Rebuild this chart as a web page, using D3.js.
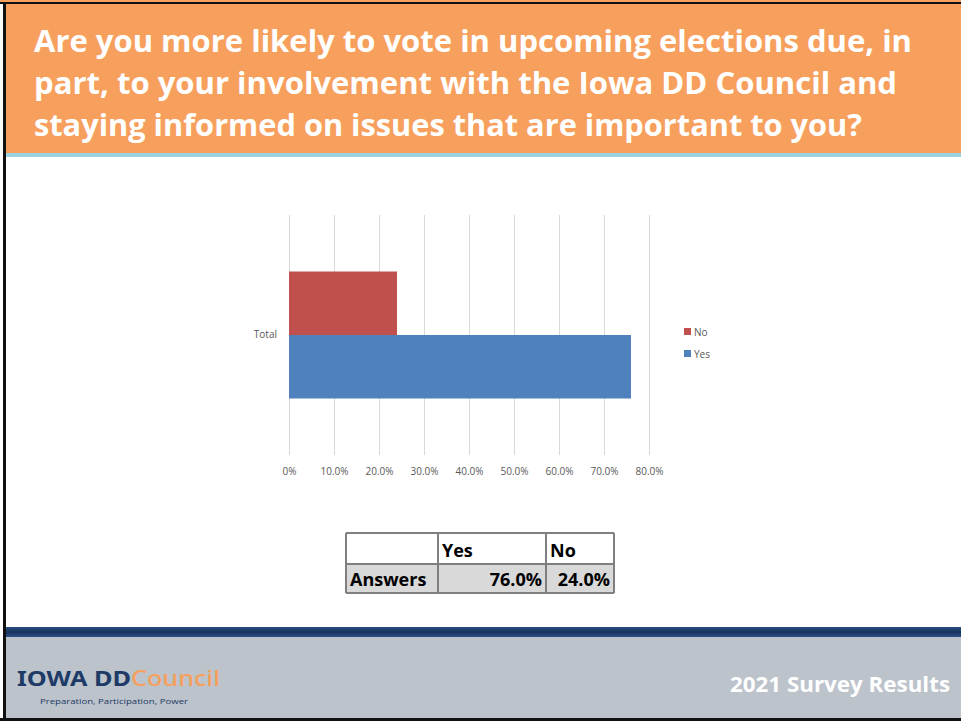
<!DOCTYPE html>
<html>
<head>
<meta charset="utf-8">
<script src="https://cdn.jsdelivr.net/npm/d3@7"></script>
<style>
  html, body { margin: 0; padding: 0; background: #fff; }
  svg { display: block; }
</style>
</head>
<body>
<script>
const titleLines = [
  'Are you more likely to vote in upcoming elections due, in',
  'part, to your involvement with the Iowa DD Council and',
  'staying informed on issues that are important to you?'
]
const categories = ['Total']
const seriesNames = ['No', 'Yes']
const seriesValues = [0.24, 0.76]
const legendNames = ['No', 'Yes']
const tickValues = [0, 0.1, 0.2, 0.3, 0.4, 0.5, 0.6, 0.7, 0.8]
const tableHeader = ['', 'Yes', 'No']
const tableRowLabel = 'Answers'
const tableValues = [0.76, 0.24]

const W = 961
const H = 721
const FONT = '"Open Sans", "Liberation Sans", sans-serif'
const colors = { No: '#c0504d', Yes: '#4f81bd' }

const svg = d3.select('body').append('svg')
  .attr('width', W)
  .attr('height', H)

// frame + header
svg.append('rect').attr('x', 0).attr('y', 0).attr('width', W).attr('height', H).attr('fill', '#fff')
svg.append('rect').attr('x', 0).attr('y', 0).attr('width', W).attr('height', 3).attr('fill', '#f7a05e')
svg.append('rect').attr('x', 0).attr('y', 2).attr('width', W).attr('height', 2).attr('fill', '#111')
svg.append('rect').attr('x', 6).attr('y', 4).attr('width', W - 6).attr('height', 150).attr('fill', '#f7a05e')
svg.append('rect').attr('x', 6).attr('y', 153).attr('width', W - 6).attr('height', 4).attr('fill', '#9dd3e0')

const titleWidths = [878, 863, 828]
svg.append('g').selectAll('text').data(titleLines)
  .enter().append('text')
    .attr('x', 34)
    .attr('y', (d, i) => 52 + i * 42)
    .attr('textLength', (d, i) => titleWidths[i])
    .attr('lengthAdjust', 'spacingAndGlyphs')
    .style('font-family', FONT)
    .style('font-weight', 700)
    .style('font-size', '31px')
    .style('fill', '#fff')
    .text(d => d)

// footer
const grad = svg.append('defs').append('linearGradient')
  .attr('id', 'navy').attr('x1', 0).attr('x2', 0).attr('y1', 0).attr('y2', 1)
grad.append('stop').attr('offset', '0%').attr('stop-color', '#2a4f82')
grad.append('stop').attr('offset', '50%').attr('stop-color', '#17335e')
grad.append('stop').attr('offset', '100%').attr('stop-color', '#2a4f82')

svg.append('rect').attr('x', 6).attr('y', 627).attr('width', W - 6).attr('height', 10).attr('fill', 'url(#navy)')
svg.append('rect').attr('x', 6).attr('y', 637).attr('width', W - 6).attr('height', 82).attr('fill', '#bcc3cb')
svg.append('rect').attr('x', 0).attr('y', 718).attr('width', W).attr('height', 3).attr('fill', '#111')
svg.append('rect').attr('x', 3).attr('y', 2).attr('width', 3).attr('height', H - 2).attr('fill', '#111')

svg.append('text')
  .attr('x', 950)
  .attr('y', 692)
  .attr('text-anchor', 'end')
  .attr('textLength', 220)
  .attr('lengthAdjust', 'spacingAndGlyphs')
  .style('font-family', FONT)
  .style('font-weight', 700)
  .style('font-size', '21px')
  .style('fill', '#fff')
  .text('2021 Survey Results')

const logo = svg.append('text')
  .attr('x', 17)
  .attr('y', 686)
  .attr('textLength', 203)
  .attr('lengthAdjust', 'spacingAndGlyphs')
  .style('font-family', '"Noto Sans", sans-serif')
  .style('font-size', '22px')
logo.append('tspan').style('fill', '#1d3b66').style('font-weight', 700).text('IOWA DD')
logo.append('tspan').style('fill', '#f7a05e').style('font-weight', 500).text('Council')

svg.append('text')
  .attr('x', 40)
  .attr('y', 704)
  .attr('textLength', 148)
  .attr('lengthAdjust', 'spacingAndGlyphs')
  .style('font-family', FONT)
  .style('font-size', '7.5px')
  .style('fill', '#1d3b66')
  .text('Preparation, Participation, Power')

// chart
const plot = { left: 289, right: 649, top: 215, bottom: 455 }

const x = d3.scaleLinear()
  .domain([0, 0.8])
  .range([plot.left, plot.right])

const y = d3.scaleBand()
  .domain(categories)
  .range([plot.top, plot.bottom])
  .paddingOuter(0.445)

const ySeries = d3.scaleBand()
  .domain(seriesNames)
  .range([0, y.bandwidth()])

const chart = svg.append('g').attr('class', 'chart')

const fmtTick = d => d === 0 ? '0%' : d3.format('.1%')(d)

const xAxis = chart.append('g')
  .attr('transform', `translate(0, ${plot.bottom})`)
  .call(d3.axisBottom(x)
    .tickValues(tickValues)
    .tickSize(-(plot.bottom - plot.top))
    .tickPadding(13)
    .tickFormat(fmtTick))

xAxis.select('.domain').remove()
xAxis.selectAll('.tick line').attr('stroke', '#d9d9d9')
xAxis.selectAll('.tick text')
  .style('font-family', FONT)
  .style('font-size', '10px')
  .style('fill', '#595959')

const bars = chart.append('g')
categories.forEach(cat => {
  bars.selectAll(null).data(seriesNames)
    .enter().append('rect')
      .attr('x', x(0))
      .attr('y', d => y(cat) + ySeries(d))
      .attr('width', (d, i) => x(seriesValues[i]) - x(0))
      .attr('height', ySeries.bandwidth())
      .attr('fill', d => colors[d])
})

const yAxis = chart.append('g')
  .attr('transform', `translate(${plot.left}, 0)`)
  .call(d3.axisLeft(y).tickSize(0).tickPadding(12))
yAxis.select('.domain').remove()
yAxis.selectAll('.tick text')
  .style('font-family', FONT)
  .style('font-size', '10px')
  .style('fill', '#595959')

// legend
const legend = chart.append('g').attr('transform', 'translate(684, 328)')
const legendItem = legend.selectAll('g').data(legendNames)
  .enter().append('g')
    .attr('transform', (d, i) => `translate(0, ${i * 22})`)
legendItem.append('rect')
  .attr('width', 7).attr('height', 7)
  .attr('fill', d => colors[d])
legendItem.append('text')
  .attr('x', 10)
  .attr('y', 7.5)
  .style('font-family', FONT)
  .style('font-size', '10px')
  .style('fill', '#595959')
  .text(d => d)

// table
const colX = [346, 438, 546, 614]
const rowY = [533, 564, 593]
const table = svg.append('g').attr('class', 'table')
table.append('rect')
  .attr('x', colX[0]).attr('y', rowY[1])
  .attr('width', colX[3] - colX[0]).attr('height', rowY[2] - rowY[1])
  .attr('fill', '#d9d9d9')

table.selectAll('line.h').data(rowY)
  .enter().append('line')
    .attr('x1', colX[0]).attr('x2', colX[3])
    .attr('y1', d => d).attr('y2', d => d)
    .attr('stroke', '#7f7f7f').attr('stroke-width', 2)
table.selectAll('line.v').data(colX)
  .enter().append('line')
    .attr('y1', rowY[0]).attr('y2', rowY[2])
    .attr('x1', d => d).attr('x2', d => d)
    .attr('stroke', '#7f7f7f').attr('stroke-width', 2)

const cellStyle = sel => sel
  .style('font-family', FONT)
  .style('font-weight', 700)
  .style('font-size', '18px')
  .style('fill', '#000')

table.selectAll('text.hdr').data(tableHeader)
  .enter().append('text')
    .attr('x', (d, i) => colX[i] + 4)
    .attr('y', rowY[1] - 7)
    .call(cellStyle)
    .text(d => d)

table.append('text')
  .attr('x', colX[0] + 4)
  .attr('y', rowY[2] - 7)
  .call(cellStyle)
  .text(tableRowLabel)

table.selectAll('text.val').data(tableValues)
  .enter().append('text')
    .attr('x', (d, i) => colX[i + 2] - 4)
    .attr('y', rowY[2] - 7)
    .attr('text-anchor', 'end')
    .call(cellStyle)
    .text(d => d3.format('.1%')(d))
</script>
</body>
</html>
